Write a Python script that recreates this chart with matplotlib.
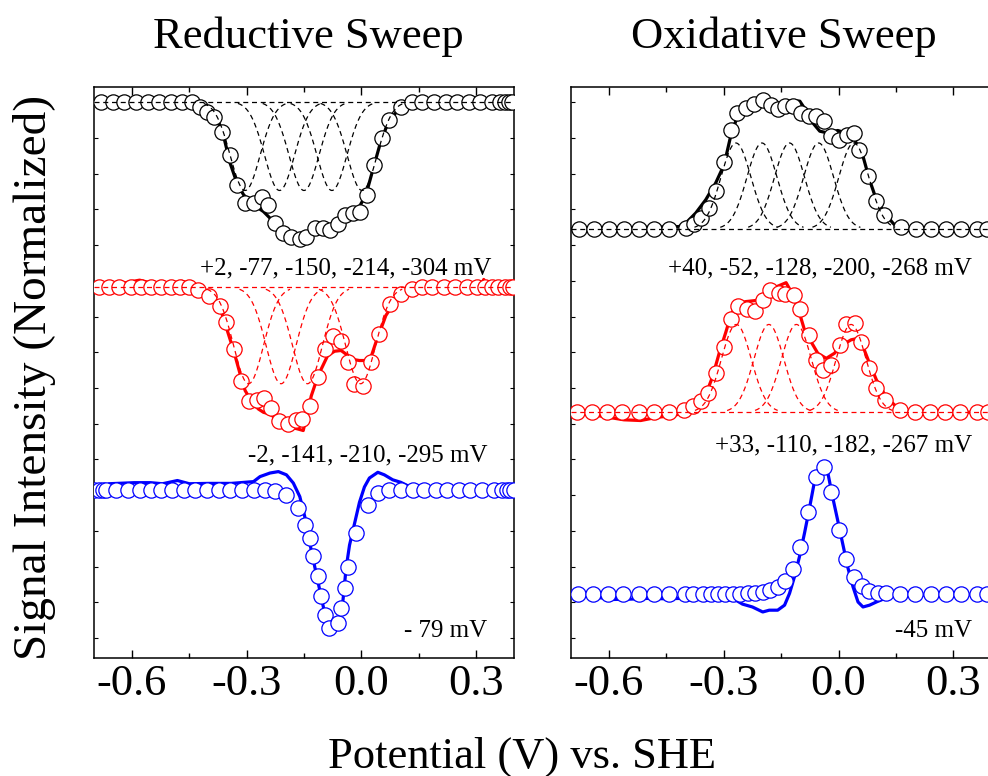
import numpy as np
import matplotlib.pyplot as plt
from matplotlib.ticker import NullLocator

plt.rcParams['font.family'] = ['Liberation Serif', 'DejaVu Serif']
plt.rcParams['axes.unicode_minus'] = False

# ---------------- data (potential in V, signal offset from each trace's baseline) ----------------
xticks = [-0.6, -0.3, 0.0, 0.3]
xtick_labels = ['-0.6', '-0.3', '0.0', '0.3']
xticks_minor = [-0.45, -0.15, 0.15]

# reductive sweep: baselines
rd_offsets = [15.02, 9.82, 4.15]
ox_offsets = [11.45, 6.32, 1.22]

# reductive, black trace
rd_k_mx = [-0.681, -0.650, -0.620, -0.590, -0.559, -0.529, -0.499, -0.468, -0.442, -0.421, -0.403, -0.386,
           -0.365, -0.343, -0.326, -0.304, -0.282, -0.261, -0.243, -0.226, -0.204, -0.183, -0.161, -0.144,
           -0.122, -0.100, -0.083, -0.061, -0.044, -0.023, -0.003, 0.016, 0.034, 0.055, 0.073, 0.103, 0.133,
           0.159, 0.190, 0.220, 0.250, 0.281, 0.311, 0.341, 0.363, 0.376, 0.386, 0.395]
rd_k_my = [0, 0, 0, 0, 0, 0, 0, 0, 0, -0.14, -0.28, -0.42, -0.84, -1.49, -2.33, -2.85, -2.85, -2.66, -2.89,
           -3.41, -3.69, -3.78, -3.86, -3.78, -3.55, -3.55, -3.59, -3.43, -3.17, -3.13, -3.08, -2.61, -1.77,
           -1.03, -0.51, -0.14, 0, 0, 0, 0, 0, 0, 0, 0, 0, 0, 0, 0]
rd_k_lx = [-0.70, -0.45, -0.421, -0.395, -0.377, -0.360, -0.343, -0.325, -0.308, -0.282, -0.256, -0.230,
           -0.204, -0.178, -0.161, -0.135, -0.109, -0.083, -0.057, -0.031, -0.005, 0.012, 0.030, 0.047,
           0.064, 0.082, 0.103, 0.125, 0.40]
rd_k_ly = [0, 0, -0.14, -0.28, -0.51, -0.98, -1.73, -2.29, -2.61, -2.89, -3.08, -3.36, -3.64, -3.78, -3.83,
           -3.73, -3.59, -3.50, -3.36, -3.17, -2.94, -2.61, -1.91, -1.26, -0.75, -0.42, -0.14, 0, 0]
rd_k_cen = [0.002, -0.077, -0.150, -0.214, -0.304]
rd_k_amp = -2.49

# reductive, red trace
rd_r_mx = [-0.685, -0.659, -0.633, -0.603, -0.577, -0.551, -0.525, -0.499, -0.473, -0.451,
           -0.428, -0.398, -0.369, -0.353, -0.334, -0.315, -0.293, -0.272, -0.254, -0.235, -0.215, -0.191,
           -0.171, -0.154, -0.135, -0.113, -0.096, -0.074, -0.053, -0.036, -0.018, 0.005, 0.025, 0.045,
           0.074, 0.103, 0.132,
           0.159, 0.185, 0.216, 0.246, 0.276, 0.302, 0.324, 0.341, 0.358, 0.376, 0.389, 0.397]
rd_r_my = [0, 0, 0, 0, 0, 0, 0, 0, 0, 0,
           -0.08, -0.25, -0.51, -0.98, -1.73, -2.61, -3.17, -3.15, -3.10, -3.38, -3.75, -3.83, -3.71, -3.69,
           -3.31, -2.52, -1.73, -1.35, -1.49, -2.10, -2.71, -2.75, -2.10, -1.31, -0.47, -0.19, -0.05,
           0, 0, 0, 0, 0, 0, 0, 0, 0, 0, 0, 0]
rd_r_lx = [-0.70, -0.66, -0.62, -0.58, -0.55, -0.50, -0.47, -0.44, -0.421, -0.395, -0.373, -0.356, -0.334,
           -0.317, -0.304, -0.286, -0.269, -0.256, -0.239, -0.221, -0.200, -0.183, -0.165, -0.152, -0.142,
           -0.131, -0.119, -0.105, -0.088, -0.070, -0.053, -0.035, -0.022, -0.005, 0.012, 0.025, 0.038,
           0.051, 0.064, 0.081, 0.103, 0.125, 0.142, 0.31, 0.32, 0.33, 0.40]
rd_r_ly = [0.05, 0.10, 0.12, 0.20, 0.12, 0.10, 0.17, 0.08, -0.03, -0.17, -0.45, -1.03, -1.77, -2.43, -2.89,
           -3.22, -3.41, -3.50, -3.55, -3.69, -3.85, -3.92, -3.97, -4.01, -3.55, -3.04, -2.66, -2.29, -1.91,
           -1.79, -1.77, -1.91, -2.02, -2.05, -2.05, -1.96, -1.54, -1.17, -0.79, -0.51, -0.23, -0.09, 0,
           0, 0.22, 0, 0]
rd_r_cen = [-0.002, -0.141, -0.210, -0.295]
rd_r_amp = -2.7

# reductive, blue trace
rd_b_mx = [-0.698, -0.687, -0.676, -0.667, -0.641, -0.611, -0.580, -0.551, -0.525, -0.494, -0.464, -0.434,
           -0.403, -0.373, -0.343, -0.312, -0.282,
           -0.252, -0.226, -0.196, -0.165, -0.148, -0.135, -0.126, -0.113, -0.105, -0.096, -0.085, -0.061,
           -0.053, -0.044, -0.035, -0.015, 0.017, 0.043, 0.073, 0.103,
           0.134, 0.164, 0.194, 0.224, 0.255, 0.285, 0.315, 0.346, 0.367, 0.380, 0.389, 0.398]
rd_b_my = [0, 0, 0, 0, 0, 0, 0, 0, 0, 0, 0, 0, 0, 0, 0, 0, 0,
           0, -0.02, -0.14, -0.51, -0.98, -1.35, -1.85, -2.41, -2.97, -3.50, -3.87, -3.73, -3.31, -2.74,
           -2.15, -1.20, -0.42, -0.09, 0, 0,
           0, 0, 0, 0, 0, 0, 0, 0, 0, 0, 0, 0]
rd_b_lx = [-0.66, -0.594, -0.551, -0.52, -0.481, -0.45, -0.40, -0.34, -0.282, -0.265, -0.239, -0.217,
           -0.196, -0.178, -0.161, -0.148, -0.135, -0.122, -0.109, -0.096, -0.083, -0.070, -0.057, -0.048,
           -0.040, -0.031, -0.018, -0.005, 0.008, 0.021, 0.043, 0.060, 0.082, 0.103, 0.12]
rd_b_ly = [0.17, 0.20, 0.20, 0.17, 0.26, 0.17, 0.18, 0.18, 0.23, 0.37, 0.47, 0.51, 0.42, 0.19, -0.19, -0.75,
           -1.49, -2.15, -2.80, -3.45, -3.83, -3.97, -3.64, -3.08, -2.20, -1.55, -0.95, -0.35, 0.08, 0.33,
           0.49, 0.42, 0.28, 0.21, 0.12]

# oxidative, black trace
ox_k_mx = [-0.679, -0.639, -0.600, -0.561, -0.521, -0.482, -0.443,
           -0.399, -0.377, -0.360, -0.338, -0.320, -0.299, -0.281, -0.264, -0.242, -0.220, -0.198, -0.177,
           -0.159, -0.140, -0.120, -0.098, -0.077, -0.059, -0.039, -0.020, 0.001, 0.021, 0.040, 0.053,
           0.077, 0.097, 0.119, 0.163,
           0.203, 0.243, 0.282, 0.321, 0.361, 0.387]
ox_k_my = [0, 0, 0, 0, 0, 0, 0,
           0.03, 0.15, 0.31, 0.59, 1.06, 1.87, 2.76, 3.25, 3.39, 3.51, 3.60, 3.48, 3.36, 3.45, 3.44, 3.25,
           3.17, 3.16, 3.02, 2.60, 2.50, 2.64, 2.69, 2.22, 1.48, 0.78, 0.40, 0.07,
           0, 0, 0, 0, 0, 0]
ox_k_lx = [-0.70, -0.417, -0.395, -0.373, -0.347, -0.321, -0.299, -0.281, -0.264, -0.242, -0.220, -0.194,
           -0.168, -0.141, -0.120, -0.101, -0.084, -0.067, -0.049, -0.028, -0.002, 0.020, 0.042, 0.064,
           0.081, 0.099, 0.120, 0.142, 0.160, 0.182, 0.208, 0.40]
ox_k_ly = [0, 0.07, 0.21, 0.45, 0.82, 1.29, 1.80, 2.64, 3.16, 3.34, 3.44, 3.45, 3.45, 3.51, 3.60, 3.58, 3.30,
           2.97, 2.74, 2.69, 2.76, 2.69, 2.50, 2.04, 1.38, 0.82, 0.45, 0.17, -0.02, -0.04, 0, 0]
ox_k_cen = [0.040, -0.052, -0.128, -0.200, -0.268]
ox_k_amp = 2.41

# oxidative, red trace
ox_r_mx = [-0.683, -0.644, -0.604, -0.565, -0.521, -0.482, -0.443,
           -0.403, -0.379, -0.360, -0.340, -0.320, -0.299, -0.281, -0.262, -0.239, -0.219, -0.198, -0.178,
           -0.156, -0.140, -0.117, -0.100, -0.076, -0.059, -0.041, -0.019, 0.003, 0.020, 0.042, 0.060,
           0.081, 0.099, 0.121, 0.160,
           0.199, 0.239, 0.278, 0.317, 0.361, 0.390]
ox_r_my = [0, 0, 0, 0, 0, 0, 0,
           0.07, 0.18, 0.33, 0.55, 1.09, 1.84, 2.60, 2.98, 2.89, 2.85, 3.15, 3.43, 3.35, 3.31, 3.29, 2.89,
           2.17, 1.47, 1.19, 1.33, 1.89, 2.47, 2.51, 1.98, 1.23, 0.67, 0.35, 0.07,
           0, 0, 0, 0, 0, 0]
ox_r_lx = [-0.70, -0.665, -0.613, -0.561, -0.517, -0.474, -0.430, -0.395, -0.369, -0.347, -0.329, -0.312,
           -0.294, -0.281, -0.264, -0.242, -0.216, -0.194, -0.172, -0.150, -0.137, -0.124, -0.107, -0.089,
           -0.072, -0.054, -0.032, -0.011, 0.011, 0.033, 0.051, 0.064, 0.081, 0.099, 0.121, 0.142, 0.160,
           0.182, 0.40]
ox_r_ly = [0, -0.03, -0.12, -0.21, -0.23, -0.14, -0.09, 0.02, 0.21, 0.49, 1.00, 1.65, 2.26, 2.73, 3.05,
           3.10, 3.13, 3.24, 3.47, 3.57, 3.63, 3.38, 2.96, 2.31, 1.98, 1.65, 1.51, 1.65, 1.89, 2.03, 2.07,
           1.84, 1.37, 0.91, 0.49, 0.25, 0.07, 0, 0]
ox_r_cen = [0.033, -0.110, -0.182, -0.267]
ox_r_amp = 2.46

# oxidative, blue trace
ox_b_mx = [-0.681, -0.641, -0.602, -0.562, -0.521, -0.482, -0.443, -0.402, -0.380, -0.355, -0.334, -0.316,
           -0.296, -0.277, -0.258, -0.237, -0.217, -0.198, -0.178, -0.157, -0.139, -0.120, -0.100, -0.080,
           -0.060, -0.039, -0.019, 0.001, 0.020, 0.040, 0.061, 0.081, 0.102, 0.124, 0.162, 0.201, 0.241,
           0.281, 0.321, 0.362, 0.387]
ox_b_my = [0, 0, 0, 0, 0, 0, 0, 0, 0, 0, 0, 0, 0, 0, 0,
           0.03, 0.05, 0.07, 0.12, 0.21, 0.37, 0.71, 1.34, 2.32, 3.30, 3.56, 2.86, 1.80, 0.98, 0.49, 0.23,
           0.10, 0.05, 0.03,
           0, 0, 0, 0, 0, 0, 0]
ox_b_lx = [-0.70, -0.631, -0.587, -0.543, -0.499, -0.456, -0.412, -0.369, -0.325, -0.268, -0.251, -0.225,
           -0.198, -0.181, -0.159, -0.141, -0.128, -0.115, -0.102, -0.089, -0.076, -0.063, -0.050, -0.039,
           -0.028, -0.015, -0.002, 0.011, 0.024, 0.038, 0.051, 0.064, 0.081, 0.099, 0.135, 0.153, 0.40]
ox_b_ly = [0, -0.08, -0.14, -0.13, -0.11, -0.12, -0.11, -0.11, -0.11, -0.16, -0.27, -0.35, -0.49, -0.44,
           -0.44, -0.30, 0.03, 0.50, 1.06, 1.71, 2.41, 3.15, 3.53, 3.63, 3.41, 2.71, 2.07, 1.42, 0.77, 0.21,
           -0.21, -0.35, -0.30, -0.21, -0.05, -0.02, 0]

peak_width = 0.039  # gaussian sigma of the fitted components (V)

rd_labels = ['+2, -77, -150, -214, -304 mV', '-2, -141, -210, -295 mV', '- 79 mV']
ox_labels = ['+40, -52, -128, -200, -268 mV', '+33, -110, -182, -267 mV', '-45 mV']

# ---------------- plotting ----------------
fig = plt.figure(figsize=(9.88, 7.76), dpi=100)
ax1 = fig.add_axes([0.0948, 0.152, 0.4258, 0.736])
ax2 = fig.add_axes([0.5776, 0.152, 0.426, 0.736])


def draw(ax, off, mx, my, lx, ly, color, cen=None, amp=None):
    ax.plot(lx, np.array(ly) + off, color=color, lw=2.3, zorder=2,
            solid_joinstyle='round', solid_capstyle='round')
    ax.plot(mx, np.array(my) + off, 'o', ms=11, mfc='white', mec=color, mew=0.9, zorder=3)
    if cen is None:
        return
    xs = np.linspace(-0.7, 0.4, 800)
    ax.plot(xs, np.full_like(xs, off), color=color, lw=0.9, ls=(0, (4, 3)), zorder=4)
    for c in cen:
        g = amp * np.exp(-(xs - c) ** 2 / (2 * peak_width ** 2))
        keep = np.abs(xs - c) < 2.8 * peak_width
        ax.plot(xs[keep], g[keep] + off, color=color, lw=0.9, ls=(0, (4, 3)), zorder=4)


draw(ax1, rd_offsets[0], rd_k_mx, rd_k_my, rd_k_lx, rd_k_ly, 'black', rd_k_cen, rd_k_amp)
draw(ax1, rd_offsets[1], rd_r_mx, rd_r_my, rd_r_lx, rd_r_ly, 'red', rd_r_cen, rd_r_amp)
draw(ax1, rd_offsets[2], rd_b_mx, rd_b_my, rd_b_lx, rd_b_ly, 'blue')
draw(ax2, ox_offsets[0], ox_k_mx, ox_k_my, ox_k_lx, ox_k_ly, 'black', ox_k_cen, ox_k_amp)
draw(ax2, ox_offsets[1], ox_r_mx, ox_r_my, ox_r_lx, ox_r_ly, 'red', ox_r_cen, ox_r_amp)
draw(ax2, ox_offsets[2], ox_b_mx, ox_b_my, ox_b_lx, ox_b_ly, 'blue')

for ax in (ax1, ax2):
    ax.set_xlim(-0.7, 0.4)
    ax.set_ylim(-0.56, 15.43)
    ax.set_xticks(xticks)
    ax.set_xticklabels(xtick_labels)
    ax.set_xticks(xticks_minor, minor=True)
    ax.set_yticks(np.arange(0, 16))
    ax.yaxis.set_minor_locator(NullLocator())
    ax.tick_params(axis='x', which='major', direction='in', length=6, width=1, top=True,
                   labelsize=32, pad=4)
    ax.tick_params(axis='x', which='minor', direction='in', length=3.5, width=1, top=True)
    ax.tick_params(axis='y', which='major', direction='in', length=3, width=0.8,
                   left=True, right=True, labelleft=False)
    for s in ax.spines.values():
        s.set_linewidth(1.1)

for txt, yf in zip(rd_labels, [0.671, 0.345, 0.037]):
    ax1.text(0.945 if yf > 0.5 else 0.935, yf, txt, transform=ax1.transAxes,
             ha='right', va='baseline', fontsize=18)
for txt, yf in zip(ox_labels, [0.671, 0.361, 0.037]):
    ax2.text(0.953, yf, txt, transform=ax2.transAxes, ha='right', va='baseline', fontsize=18)

fig.text(0.312, 0.938, 'Reductive Sweep', ha='center', va='baseline', fontsize=32)
fig.text(0.793, 0.938, 'Oxidative Sweep', ha='center', va='baseline', fontsize=32)
fig.text(0.035, 0.513, 'Signal Intensity (Normalized)', rotation=90, ha='center', va='center',
         fontsize=34)
fig.text(0.528, 0.0103, 'Potential (V) vs. SHE', ha='center', va='baseline', fontsize=32)

fig.savefig('out.png', dpi=100)
